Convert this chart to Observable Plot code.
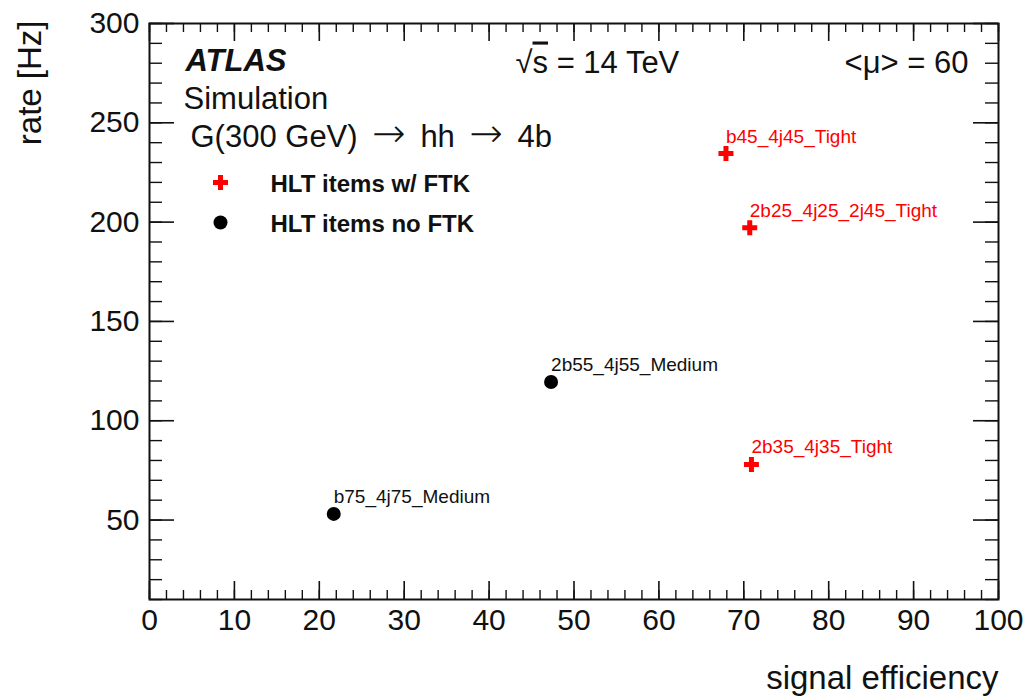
<!DOCTYPE html>
<html>
<head>
<meta charset="utf-8">
<script src="https://cdn.jsdelivr.net/npm/d3@7"></script>
<script src="https://cdn.jsdelivr.net/npm/@observablehq/plot@0.6"></script>
<style>
  html, body { margin: 0; padding: 0; background: #fff; }
  #chart { width: 1030px; height: 698px; }
</style>
</head>
<body>
<div id="chart"></div>
<script>
// ---- data ----
const ftkLabels = ["b45_4j45_Tight", "2b25_4j25_2j45_Tight", "2b35_4j35_Tight"];
const ftkEff    = [67.9, 70.7, 70.9];
const ftkRate   = [234.5, 197.2, 78.0];

const noFtkLabels = ["b75_4j75_Medium", "2b55_4j55_Medium"];
const noFtkEff    = [21.7, 47.3];
const noFtkRate   = [53.1, 119.5];

const xMajorTicks = [0, 10, 20, 30, 40, 50, 60, 70, 80, 90, 100];
const xMinorTicks = d3.range(0, 100.001, 2);
const yMajorTicks = [50, 100, 150, 200, 250, 300];
const yMinorTicks = d3.range(10, 300.001, 10);

const legendLabels = ["HLT items w/ FTK", "HLT items no FTK"];

// ---- build tables ----
const ftk = ftkLabels.map((name, i) => ({name, eff: ftkEff[i], rate: ftkRate[i]}));
const noFtk = noFtkLabels.map((name, i) => ({name, eff: noFtkEff[i], rate: noFtkRate[i]}));

const W = 1030, H = 698;
const mL = 149, mR = 32, mT = 23, mB = 99;
const fw = W - mL - mR, fh = H - mT - mB;
const font = "'Liberation Sans', Arial, Helvetica, sans-serif";
const ink = "#111";

const chart = Plot.plot({
  width: W,
  height: H,
  marginLeft: mL,
  marginRight: mR,
  marginTop: mT,
  marginBottom: mB,
  x: {domain: [0, 100], axis: null},
  y: {domain: [10, 300], axis: null},
  style: {fontFamily: font, background: "#fff", color: ink},
  marks: [
    // ticks (inward, ROOT style)
    Plot.tickX(xMajorTicks, {x: d => d, insetTop: fh - 18, stroke: ink, strokeWidth: 1.6}),
    Plot.tickX(xMinorTicks, {x: d => d, insetTop: fh - 9, stroke: ink, strokeWidth: 1.4}),
    Plot.tickX(xMajorTicks, {x: d => d, insetBottom: fh - 18, stroke: ink, strokeWidth: 1.6}),
    Plot.tickX(xMinorTicks, {x: d => d, insetBottom: fh - 9, stroke: ink, strokeWidth: 1.4}),
    Plot.tickY(yMajorTicks, {y: d => d, insetRight: fw - 25, stroke: ink, strokeWidth: 1.6}),
    Plot.tickY(yMinorTicks, {y: d => d, insetRight: fw - 13, stroke: ink, strokeWidth: 1.4}),
    Plot.tickY(yMajorTicks, {y: d => d, insetLeft: fw - 25, stroke: ink, strokeWidth: 1.6}),
    Plot.tickY(yMinorTicks, {y: d => d, insetLeft: fw - 13, stroke: ink, strokeWidth: 1.4}),
    Plot.frame({stroke: ink, strokeWidth: 2}),

    // tick labels
    Plot.text(xMajorTicks, {x: d => d, text: d => String(d), frameAnchor: "bottom",
      lineAnchor: "top", dy: 9, fontSize: 30, fill: ink}),
    Plot.text(yMajorTicks, {y: d => d, text: d => String(d), frameAnchor: "left",
      textAnchor: "end", lineAnchor: "middle", dx: -10, fontSize: 30, fill: ink}),

    // axis titles
    Plot.text(["signal efficiency"], {text: d => d, frameAnchor: "bottom-right",
      textAnchor: "end", lineAnchor: "bottom", dy: 89, fontSize: 33, fill: ink}),
    Plot.text(["rate [Hz]"], {text: d => d, frameAnchor: "top-left", rotate: -90,
      textAnchor: "end", lineAnchor: "middle", dx: 30 - mL, dy: 20 - mT, fontSize: 33, fill: ink}),

    // data points
    Plot.dot(noFtk, {x: "eff", y: "rate", r: 7, fill: "#000", stroke: null}),
    Plot.dot(ftk, {x: "eff", y: "rate", symbol: "cross", r: 6.3, fill: "#ff0000", stroke: null}),
    Plot.text(noFtk, {x: "eff", y: "rate", text: "name", textAnchor: "start",
      lineAnchor: "bottom", dy: -11, fontSize: 19, fill: ink}),
    Plot.text(ftk, {x: "eff", y: "rate", text: "name", textAnchor: "start",
      lineAnchor: "bottom", dy: -11, fontSize: 19, fill: "#ff0000"}),

    // annotations
    Plot.text(["ATLAS"], {text: d => d, frameAnchor: "top-left", textAnchor: "start",
      lineAnchor: "bottom", dx: 36, dy: 70 - mT, fontSize: 31, fontWeight: "bold",
      fontStyle: "italic", fill: ink}),
    Plot.text(["Simulation"], {text: d => d, frameAnchor: "top-left", textAnchor: "start",
      lineAnchor: "bottom", dx: 34, dy: 108 - mT, fontSize: 31, fill: ink}),
    Plot.text(["G(300 GeV) \u2192 hh \u2192 4b"], {text: d => d, frameAnchor: "top-left",
      textAnchor: "start", lineAnchor: "bottom", dx: 41, dy: 146 - mT, fontSize: 31, fill: ink,
      className: "process-line"}),
    Plot.text(["\u221As = 14 TeV"], {text: d => d, frameAnchor: "top-left",
      textAnchor: "start", lineAnchor: "bottom", dx: 515 - mL, dy: 72 - mT, fontSize: 31, fill: ink,
      className: "sqrts-line"}),
    Plot.text(["<\u03BC> = 60"], {text: d => d, frameAnchor: "top-right",
      textAnchor: "end", lineAnchor: "bottom", dx: 968 - (W - mR), dy: 72 - mT, fontSize: 31, fill: ink}),

    // legend
    Plot.dot([legendLabels[0]], {frameAnchor: "top-left", dx: 220 - mL, dy: 182 - mT,
      symbol: "cross", r: 6.3, fill: "#ff0000", stroke: null}),
    Plot.dot([legendLabels[1]], {frameAnchor: "top-left", dx: 220 - mL, dy: 222 - mT,
      r: 7, fill: "#000", stroke: null}),
    Plot.text([legendLabels[0]], {text: d => d, frameAnchor: "top-left", textAnchor: "start",
      lineAnchor: "bottom", dx: 270 - mL, dy: 191 - mT, fontSize: 24, fontWeight: "bold", fill: ink}),
    Plot.text([legendLabels[1]], {text: d => d, frameAnchor: "top-left", textAnchor: "start",
      lineAnchor: "bottom", dx: 270 - mL, dy: 231 - mT, fontSize: 24, fontWeight: "bold", fill: ink})
  ]
});

// Typographic touch-ups: wider arrows (ROOT symbol font) and overline over "s" in √s
const svg = d3.select(chart);
svg.selectAll("g.process-line text").each(function() {
  const t = d3.select(this);
  const parts = t.text().split("\u2192");
  t.text(null);
  parts.forEach((p, i) => {
    const seg = t.append("tspan").text(p);
    if (i > 0) seg.attr("dx", 6);
    if (i < parts.length - 1) {
      t.append("tspan").attr("font-family", "'DejaVu Sans', sans-serif")
        .attr("font-size", 40).attr("font-weight", 300).attr("dx", 6).text("\u2192");
    }
  });
});
svg.selectAll("g.sqrts-line text").each(function() {
  const t = d3.select(this);
  const s = t.text();
  t.text(null);
  t.append("tspan").text(s.slice(0, 1));
  t.append("tspan").style("text-decoration", "overline").text(s.slice(1, 2));
  t.append("tspan").text(s.slice(2));
});

document.getElementById("chart").appendChild(chart);
</script>
</body>
</html>
